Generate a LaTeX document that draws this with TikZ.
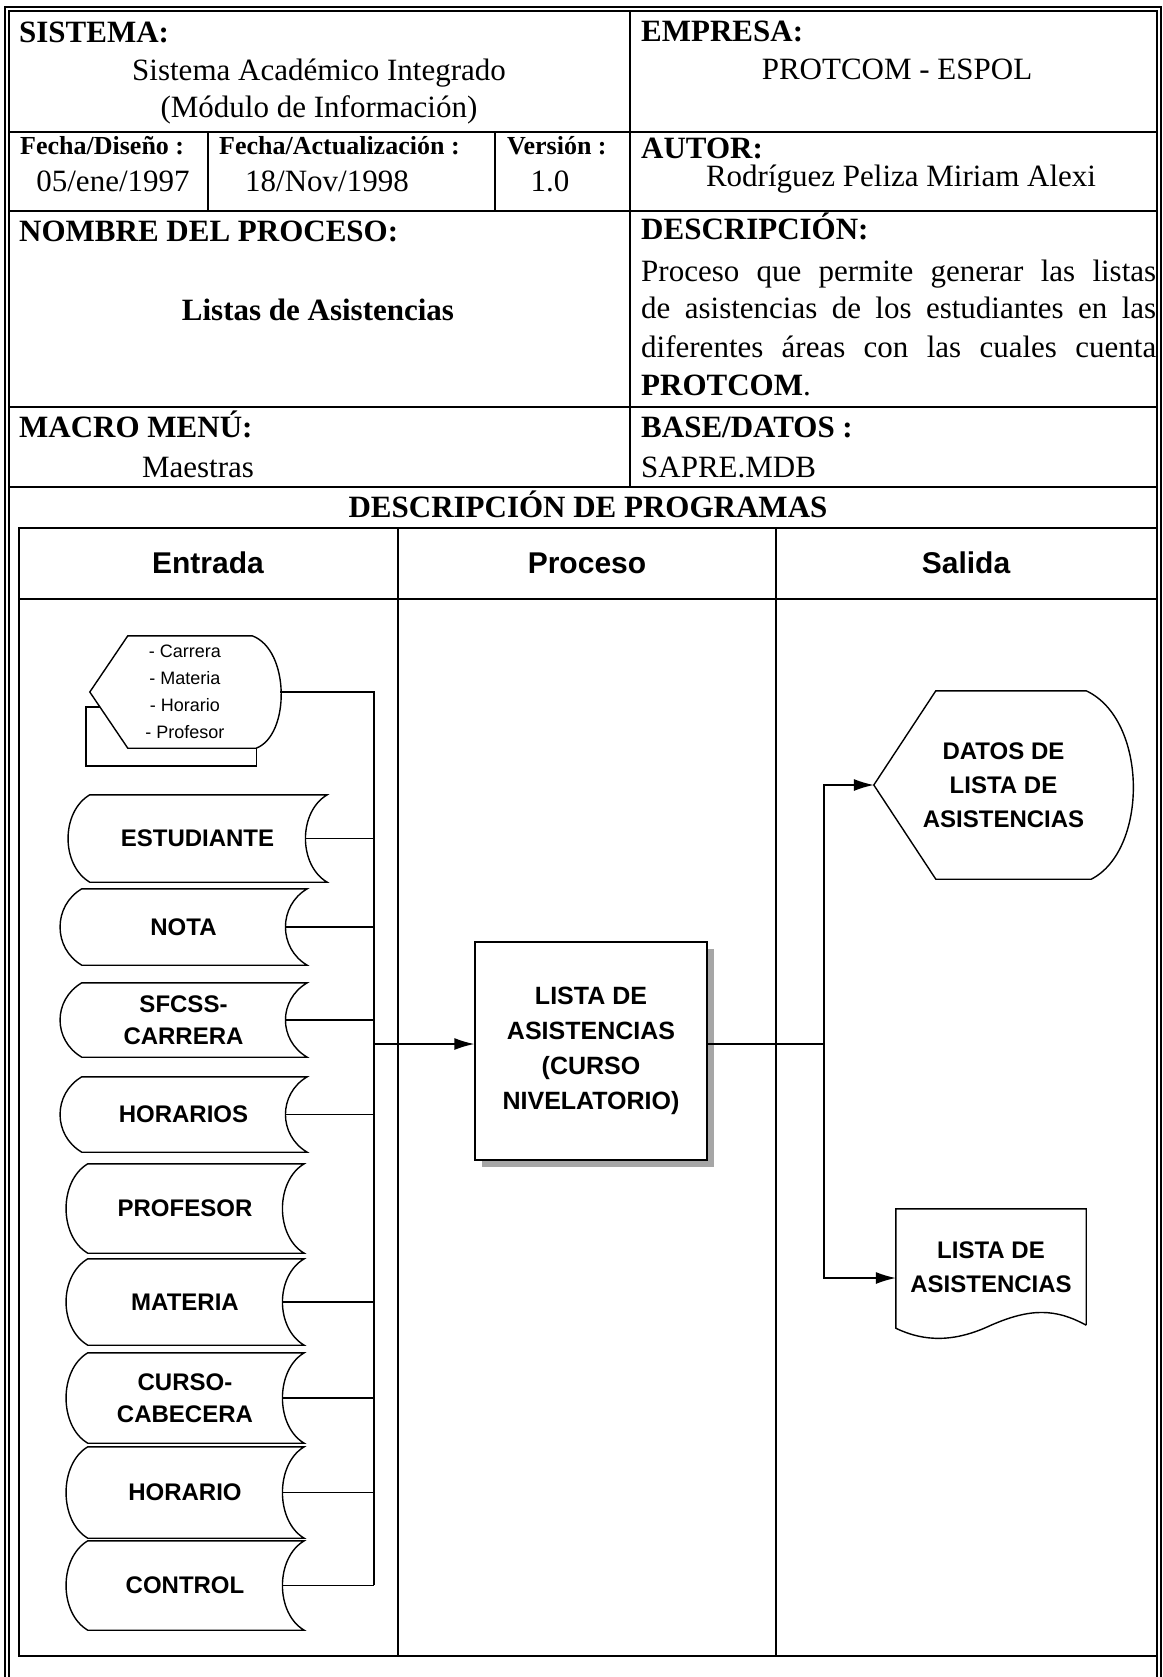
\documentclass[tikz,border=0pt]{standalone}
\usepackage{fontspec}
\setmainfont{Liberation Serif}
\setsansfont{Liberation Sans}
\usetikzlibrary{
    arrows.meta,
    positioning,
    shadows
}

\begin{document}
\begin{tikzpicture}[
        x=1pt, y=-1pt,
        >={Latex[length=20pt,width=12pt]},
        txt/.style={inner sep=0pt, font=\fontsize{31}{37}\selectfont},
        head/.style={inner sep=0pt, font=\bfseries\fontsize{31}{37}\selectfont},
        tiny/.style={inner sep=0pt, font=\bfseries\fontsize{26}{30}\selectfont},
        lane/.style={inner sep=0pt, font=\sffamily\bfseries\fontsize{30}{34}\selectfont},
        grid/.style={line width=2pt},
        flow/.style={line width=1.4pt},
        disp/.style={
            inner sep=0pt,
            align=center,
            font=\sffamily\fontsize{18}{27}\selectfont
        },
        store/.style={
            inner sep=0pt,
            align=center,
            font=\sffamily\bfseries\fontsize{24}{32}\selectfont
        },
        proc/.style={
            draw,
            flow,
            fill=white,
            inner sep=0pt,
            align=center,
            font=\sffamily\bfseries\fontsize{25}{35}\selectfont,
            drop shadow={shadow xshift=7pt, shadow yshift=-7pt,
                fill=gray!70, opacity=1}
        },
        outbox/.style={
            inner sep=0pt,
            align=center,
            font=\sffamily\bfseries\fontsize{24}{34}\selectfont
        }
    ]
        \fill[white] (0,0) rectangle (1162,1677);
        \useasboundingbox (0,0) rectangle (1162,1677);

        % marco y filas de la ficha
        \draw[grid, double, double distance=2pt]
            (7,1677) -- (7,9) -- (1159,9) -- (1159,1677);
        \draw[grid] (9,132) -- (1157,132);
        \draw[grid] (9,211) -- (1157,211);
        \draw[grid] (9,407) -- (1157,407);
        \draw[grid] (9,487) -- (1157,487);
        \draw[grid] (630,11) -- (630,487);
        \draw[grid] (208,132) -- (208,211);
        \draw[grid] (495,132) -- (495,211);

        \node[head, anchor=base west] (sis) at (19,43) {SISTEMA:};
        \node[txt, anchor=base] (sisA) at (319,81) {Sistema Académico Integrado};
        \node[txt, anchor=base] (sisB) at (319,118) {(Módulo de Información)};
        \node[head, anchor=base west] (emp) at (641,42) {EMPRESA:};
        \node[txt, anchor=base] (empA) at (897,80) {PROTCOM - ESPOL};
        \node[tiny, anchor=base west] (fd) at (20,155) {Fecha/Diseño :};
        \node[txt, anchor=base] (fdA) at (113,192) {05/ene/1997};
        \node[tiny, anchor=base west] (fa) at (219,155) {Fecha/Actualización :};
        \node[txt, anchor=base west] (faA) at (245,192) {18/Nov/1998};
        \node[tiny, anchor=base west] (ver) at (507,155) {Versión :};
        \node[txt, anchor=base] (verA) at (550,192) {1.0};
        \node[head, anchor=base west] (aut) at (641,159) {AUTOR:};
        \node[txt, anchor=base] (autA) at (901,187) {Rodríguez Peliza Miriam Alexi};
        \node[head, anchor=base west] (nom) at (19,242) {NOMBRE DEL PROCESO:};
        \node[head, anchor=base] (nomA) at (318,320) {Listas de Asistencias};
        \node[head, anchor=base west] (des) at (641,240) {DESCRIPCIÓN:};
        \node[txt, anchor=base west] (desA) at (641,282)
            {\makebox[515pt][s]{Proceso que permite generar las listas}};
        \node[txt, anchor=base west] (desB) at (641,319)
            {\makebox[515pt][s]{de asistencias de los estudiantes en las}};
        \node[txt, anchor=base west] (desC) at (641,357)
            {\makebox[515pt][s]{diferentes áreas con las cuales cuenta}};
        \node[txt, anchor=base west] (desD) at (641,395) {\textbf{PROTCOM}.};
        \node[head, anchor=base west] (mac) at (19,437) {MACRO MENÚ:};
        \node[txt, anchor=base] (macA) at (198,477) {Maestras};
        \node[head, anchor=base west] (bas) at (641,437) {BASE/DATOS :};
        \node[txt, anchor=base west] (basA) at (641,477) {SAPRE.MDB};
        \node[head, anchor=base] (dp) at (588,517) {DESCRIPCIÓN DE PROGRAMAS};

        % tabla entrada / proceso / salida
        \draw[grid] (19,528) rectangle (1157,1656);
        \draw[grid] (19,599) -- (1157,599);
        \draw[flow] (398,528) -- (398,1656);
        \draw[flow] (776,528) -- (776,1656);
        \node[lane, anchor=base] (ent) at (208,573) {Entrada};
        \node[lane, anchor=base] (pro) at (587,573) {Proceso};
        \node[lane, anchor=base] (sal) at (966,573) {Salida};

        % entradas
        \node[disp, minimum width=190pt, minimum height=112pt] (D0) at (185,692)
            {- Carrera\\- Materia\\- Horario\\- Profesor};
        \draw[flow] ([xshift=38pt]D0.north west) -- ([xshift=-28pt]D0.north east)
            .. controls +(38,14) and +(34,-13) .. ([xshift=-24pt]D0.south east)
            -- ([xshift=38pt]D0.south west) -- (D0.west) -- cycle;
        \draw[flow] (D0.west) ++(10,15) -- ++(-14,0) -- ++(0,59)
            -| ([xshift=-24pt]D0.south east);

        \node[store, minimum width=259pt, minimum height=87pt] (S1) at (197.5,838.5) {ESTUDIANTE};
        \node[store, minimum width=247pt, minimum height=76pt] (S2) at (183.5,927) {NOTA};
        \node[store, minimum width=247pt, minimum height=74pt] (S3) at (183.5,1020) {SFCSS-\\CARRERA};
        \node[store, minimum width=247pt, minimum height=75pt] (S4) at (183.5,1114.5) {HORARIOS};
        \node[store, minimum width=238pt, minimum height=89pt] (S5) at (185,1208.5) {PROFESOR};
        \node[store, minimum width=238pt, minimum height=86pt] (S6) at (185,1302) {MATERIA};
        \node[store, minimum width=238pt, minimum height=90pt] (S7) at (185,1398) {CURSO-\\CABECERA};
        \node[store, minimum width=238pt, minimum height=91pt] (S8) at (185,1492.5) {HORARIO};
        \node[store, minimum width=238pt, minimum height=89pt] (S9) at (185,1585.5) {CONTROL};
        \foreach \i in {1,...,9}
            \draw[flow] ([xshift=22pt]S\i.north west) -- (S\i.north east)
                .. controls +(-29,17) and +(-29,-17) .. (S\i.south east)
                -- ([xshift=22pt]S\i.south west)
                .. controls +(-29,-17) and +(-29,17) .. ([xshift=22pt]S\i.north west)
                -- cycle;

        \coordinate (J1) at (374,692);
        \coordinate (J2) at (374,1585);
        \coordinate (J3) at (374,1044);
        \draw[flow] (D0.east) -- (J1) -- (J2);
        \foreach \i in {1,2,3,4,6,7,8,9}
            \draw[flow] ([xshift=-22pt]S\i.east) -- (S\i.east -| J1);

        % proceso
        \node[proc, minimum width=232pt, minimum height=218pt] (P1) at (591,1051)
            {LISTA DE\\ASISTENCIAS\\(CURSO\\NIVELATORIO)};
        \draw[flow, ->] (J3) -- (J3 -| P1.west);

        % salidas
        \node[outbox, minimum width=259pt, minimum height=188pt] (D1) at (1003.5,785)
            {DATOS DE\\LISTA DE\\ASISTENCIAS};
        \draw[flow] ([xshift=62pt]D1.north west) -- ([xshift=-47pt]D1.north east)
            .. controls +(62,29) and +(57,-29) .. ([xshift=-42pt]D1.south east)
            -- ([xshift=62pt]D1.south west) -- (D1.west) -- cycle;

        \node[outbox, minimum width=190pt, minimum height=116pt] (O1) at (991,1267)
            {LISTA DE\\ASISTENCIAS};
        \draw[flow] (O1.south east) -- (O1.north east) -- (O1.north west)
            -- ([yshift=-3pt]O1.south west)
            .. controls +(29,14) and +(-36,17) .. (O1.south)
            .. controls +(39,-17) and +(-31,-17) .. (O1.south east);

        \coordinate (J4) at (824,1044);
        \draw[flow] (J4 -| P1.east) -- (J4);
        \draw[flow, ->] (J4) |- (D1.west);
        \draw[flow, ->] (J4) |- ([yshift=-11pt]O1.west);
    \end{tikzpicture}
\end{document}
